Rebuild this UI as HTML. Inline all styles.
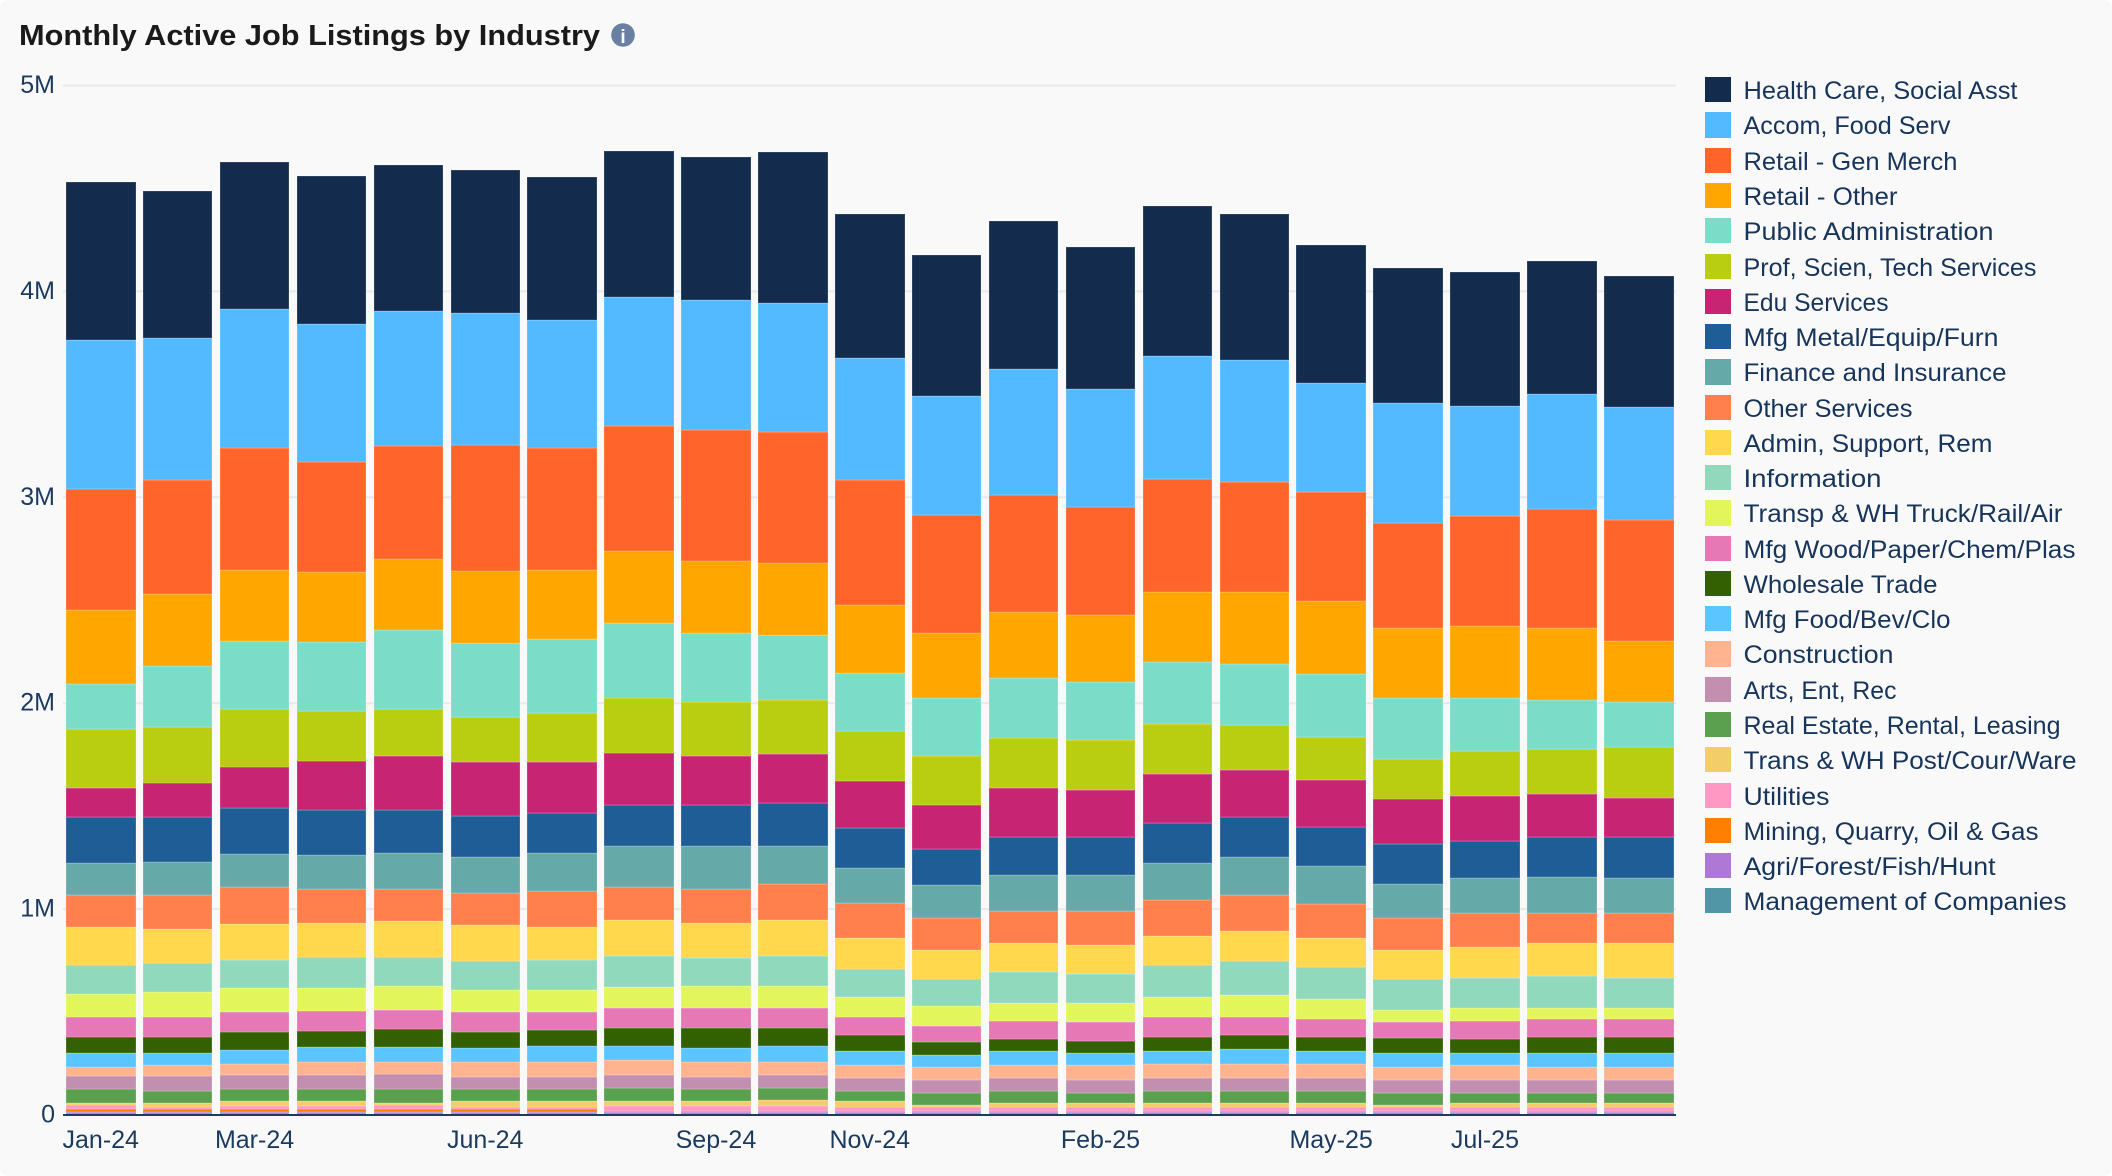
<!DOCTYPE html>
<html lang="en">
<head>
<meta charset="utf-8">
<title>Monthly Active Job Listings by Industry</title>
<style>
  html, body { margin: 0; padding: 0; background: #ffffff; }
  #card { position: relative; width: 2112px; height: 1176px; background: #f9f9f9; border-radius: 8px; overflow: hidden; }
  svg { position: absolute; left: 0; top: 0; display: block; }
  text { font-family: "Liberation Sans", "DejaVu Sans", sans-serif; }
  .legend-text { font-size: 25px; fill: #17345a; }
  .tick { font-size: 25px; fill: #1b3a5e; }
</style>
</head>
<body>
<div id="card">
<svg id="chart" width="2112" height="1176" viewBox="0 0 2112 1176" xmlns="http://www.w3.org/2000/svg">
  <text x="19" y="45" font-size="29" font-weight="700" fill="#1a1a1a" textLength="581" lengthAdjust="spacingAndGlyphs">Monthly Active Job Listings by Industry</text>
  <g>
    <circle cx="623" cy="35" r="11.8" fill="#6a80a3"></circle>
    <text x="623" y="43" font-size="19" font-weight="700" fill="#ffffff" text-anchor="middle">i</text>
  </g>
  <g id="grid"></g>
  <g id="bars"></g>
  <g id="axes"></g>

  <g>
    <g><rect x="1705" y="77" width="26" height="25" fill="#132c4d"></rect><text class="legend-text" x="1743.5" y="99" textLength="274" lengthAdjust="spacingAndGlyphs">Health Care, Social Asst</text></g>
    <g><rect x="1705" y="112" width="26" height="26" fill="#54baff"></rect><text class="legend-text" x="1743.5" y="134" textLength="207" lengthAdjust="spacingAndGlyphs">Accom, Food Serv</text></g>
    <g><rect x="1705" y="148" width="26" height="25" fill="#ff652b"></rect><text class="legend-text" x="1743.5" y="170" textLength="214" lengthAdjust="spacingAndGlyphs">Retail - Gen Merch</text></g>
    <g><rect x="1705" y="183" width="26" height="25" fill="#ffa600"></rect><text class="legend-text" x="1743.5" y="205" textLength="154" lengthAdjust="spacingAndGlyphs">Retail - Other</text></g>
    <g><rect x="1705" y="218" width="26" height="25" fill="#7bddc8"></rect><text class="legend-text" x="1743.5" y="240" textLength="250" lengthAdjust="spacingAndGlyphs">Public Administration</text></g>
    <g><rect x="1705" y="254" width="26" height="25" fill="#b9ce10"></rect><text class="legend-text" x="1743.5" y="276" textLength="293" lengthAdjust="spacingAndGlyphs">Prof, Scien, Tech Services</text></g>
    <g><rect x="1705" y="289" width="26" height="25" fill="#c72574"></rect><text class="legend-text" x="1743.5" y="311" textLength="145" lengthAdjust="spacingAndGlyphs">Edu Services</text></g>
    <g><rect x="1705" y="324" width="26" height="25" fill="#1f5d97"></rect><text class="legend-text" x="1743.5" y="346" textLength="255" lengthAdjust="spacingAndGlyphs">Mfg Metal/Equip/Furn</text></g>
    <g><rect x="1705" y="359" width="26" height="26" fill="#65a9a9"></rect><text class="legend-text" x="1743.5" y="381" textLength="263" lengthAdjust="spacingAndGlyphs">Finance and Insurance</text></g>
    <g><rect x="1705" y="395" width="26" height="25" fill="#ff7f4d"></rect><text class="legend-text" x="1743.5" y="417" textLength="169" lengthAdjust="spacingAndGlyphs">Other Services</text></g>
    <g><rect x="1705" y="430" width="26" height="25" fill="#ffd84d"></rect><text class="legend-text" x="1743.5" y="452" textLength="249" lengthAdjust="spacingAndGlyphs">Admin, Support, Rem</text></g>
    <g><rect x="1705" y="465" width="26" height="25" fill="#91d9bc"></rect><text class="legend-text" x="1743.5" y="487" textLength="138" lengthAdjust="spacingAndGlyphs">Information</text></g>
    <g><rect x="1705" y="500" width="26" height="26" fill="#e2f65b"></rect><text class="legend-text" x="1743.5" y="522" textLength="319" lengthAdjust="spacingAndGlyphs">Transp &amp; WH Truck/Rail/Air</text></g>
    <g><rect x="1705" y="536" width="26" height="25" fill="#e678b6"></rect><text class="legend-text" x="1743.5" y="558" textLength="332" lengthAdjust="spacingAndGlyphs">Mfg Wood/Paper/Chem/Plas</text></g>
    <g><rect x="1705" y="571" width="26" height="25" fill="#336000"></rect><text class="legend-text" x="1743.5" y="593" textLength="194" lengthAdjust="spacingAndGlyphs">Wholesale Trade</text></g>
    <g><rect x="1705" y="606" width="26" height="25" fill="#5bc5ff"></rect><text class="legend-text" x="1743.5" y="628" textLength="207" lengthAdjust="spacingAndGlyphs">Mfg Food/Bev/Clo</text></g>
    <g><rect x="1705" y="641" width="26" height="26" fill="#ffb38f"></rect><text class="legend-text" x="1743.5" y="663" textLength="150" lengthAdjust="spacingAndGlyphs">Construction</text></g>
    <g><rect x="1705" y="677" width="26" height="25" fill="#c28fb0"></rect><text class="legend-text" x="1743.5" y="699" textLength="153" lengthAdjust="spacingAndGlyphs">Arts, Ent, Rec</text></g>
    <g><rect x="1705" y="712" width="26" height="25" fill="#5ba04e"></rect><text class="legend-text" x="1743.5" y="734" textLength="317" lengthAdjust="spacingAndGlyphs">Real Estate, Rental, Leasing</text></g>
    <g><rect x="1705" y="747" width="26" height="25" fill="#f3cd67"></rect><text class="legend-text" x="1743.5" y="769" textLength="333" lengthAdjust="spacingAndGlyphs">Trans &amp; WH Post/Cour/Ware</text></g>
    <g><rect x="1705" y="783" width="26" height="25" fill="#ff99c4"></rect><text class="legend-text" x="1743.5" y="805" textLength="86" lengthAdjust="spacingAndGlyphs">Utilities</text></g>
    <g><rect x="1705" y="818" width="26" height="25" fill="#ff7f00"></rect><text class="legend-text" x="1743.5" y="840" textLength="295" lengthAdjust="spacingAndGlyphs">Mining, Quarry, Oil &amp; Gas</text></g>
    <g><rect x="1705" y="853" width="26" height="25" fill="#ae78d6"></rect><text class="legend-text" x="1743.5" y="875" textLength="252" lengthAdjust="spacingAndGlyphs">Agri/Forest/Fish/Hunt</text></g>
    <g><rect x="1705" y="888" width="26" height="25" fill="#5196a6"></rect><text class="legend-text" x="1743.5" y="910" textLength="323" lengthAdjust="spacingAndGlyphs">Management of Companies</text></g>
  </g>
</svg>
</div>
<script>
// Categories
const months = ['Jan-24','Feb-24','Mar-24','Apr-24','May-24','Jun-24','Jul-24','Aug-24','Sep-24','Oct-24','Nov-24','Dec-24','Jan-25','Feb-25','Mar-25','Apr-25','May-25','Jun-25','Jul-25','Aug-25','Sep-25'];
const xTickLabels = ['Jan-24','Mar-24','Jun-24','Sep-24','Nov-24','Feb-25','May-25','Jul-25'];
const yTickValues = [0,1000,2000,3000,4000,5000];
const yTickLabels = ['0','1M','2M','3M','4M','5M'];

// Series values, in thousands of listings
const healthCare = [769,716,714,717,709,698,699,707,699,733,698,683,717,691,733,707,672,654,654,644,638];
const accomFood = [724,690,674,672,654,638,620,628,630,630,594,578,614,575,596,594,525,586,534,560,550];
const retailGen = [588,554,594,534,549,612,594,606,636,636,604,575,568,523,550,534,534,508,533,578,588];
const retailOther = [358,348,343,340,345,350,334,350,351,351,334,316,321,327,340,350,350,340,350,348,296];
const publicAdmin = [220,298,332,335,385,359,359,366,334,314,280,280,291,280,298,296,306,298,254,238,220];
const profScien = [287,270,280,244,227,220,236,264,262,264,244,238,243,243,244,219,209,193,219,219,243];
const eduServices = [141,167,201,235,262,261,251,253,236,236,227,215,238,230,236,228,228,219,219,210,194];
const mfgMetal = [220,219,219,219,210,202,194,201,201,209,193,175,183,183,194,193,193,193,181,191,198];
const finance = [157,159,165,167,175,175,185,201,210,183,173,159,175,175,181,183,181,165,168,175,168];
const otherServices = [157,165,175,165,157,155,173,159,165,176,168,157,155,165,175,175,168,157,167,147,147];
const adminSupport = [183,167,176,167,175,176,159,175,167,175,149,141,141,141,141,149,139,141,149,159,168];
const information = [139,139,139,149,141,139,147,147,139,147,139,130,149,139,157,165,157,149,147,157,147];
const transpTruck = [113,121,113,113,113,105,105,105,105,105,96,97,87,96,96,105,97,60,62,53,53];
const mfgWood = [97,97,97,97,96,97,89,97,97,97,89,79,87,89,97,87,87,79,87,87,87];
const wholesale = [79,79,87,78,87,78,78,87,96,87,76,62,60,60,68,70,68,70,70,78,78];
const mfgFood = [68,58,70,70,70,70,78,70,70,78,70,60,70,60,62,70,62,70,60,70,70];
const construction = [44,55,52,62,62,71,71,70,71,62,63,62,63,71,71,71,71,62,71,62,62];
const arts = [62,70,71,71,70,62,62,63,62,63,62,62,62,62,62,62,62,62,62,62,62];
const realEstate = [70,60,58,58,70,58,58,66,58,60,50,60,60,52,60,60,60,60,52,52,52];
const transPost = [8,18,21,21,8,29,29,21,21,28,29,11,19,19,19,19,19,11,19,19,19];
const utilities = [18,8,15,15,18,6,6,24,24,24,16,16,16,16,16,16,16,16,16,16,16];
const mining = [18,18,18,18,18,18,18,8,8,8,8,8,8,8,8,8,8,8,8,8,8];
const agri = [3,3,3,3,3,3,3,3,3,3,3,3,3,3,3,3,3,3,3,3,3];
const management = [10,10,10,10,10,10,10,10,10,10,10,10,10,10,10,10,10,10,10,10,10];

// Series in legend order (top of stack first)
const seriesList = [healthCare,accomFood,retailGen,retailOther,publicAdmin,profScien,eduServices,mfgMetal,finance,otherServices,adminSupport,information,transpTruck,mfgWood,wholesale,mfgFood,construction,arts,realEstate,transPost,utilities,mining,agri,management];
const seriesNames = ['health-care','accom-food','retail-gen-merch','retail-other','public-admin','prof-scien-tech','edu-services','mfg-metal','finance','other-services','admin-support','information','transp-truck','mfg-wood','wholesale','mfg-food','construction','arts','real-estate','trans-post','utilities','mining','agri','management'];
const seriesColors = ['#132c4d','#54baff','#ff652b','#ffa600','#7bddc8','#b9ce10','#c72574','#1f5d97','#65a9a9','#ff7f4d','#ffd84d','#91d9bc','#e2f65b','#e678b6','#336000','#5bc5ff','#ffb38f','#c28fb0','#5ba04e','#f3cd67','#ff99c4','#ff7f00','#ae78d6','#5196a6'];

const SVG_NS = 'http://www.w3.org/2000/svg';
const plotLeft = 63, plotRight = 1676, baseY = 1115, pxPerThousand = 0.2059;
const barStart = 66, barStep = 76.9, barWidth = 69.5;

function yScale(v) { return baseY - v * pxPerThousand; }
function xScale(i) { return barStart + i * barStep; }

const gridLayer = document.getElementById('grid');
const barLayer = document.getElementById('bars');
const axisLayer = document.getElementById('axes');

yTickValues.forEach(function (v, i) {
  const y = yScale(v);
  if (v > 0) {
    const line = document.createElementNS(SVG_NS, 'line');
    line.setAttribute('x1', plotLeft);
    line.setAttribute('x2', plotRight);
    line.setAttribute('y1', y);
    line.setAttribute('y2', y);
    line.setAttribute('stroke', '#e9e9e9');
    line.setAttribute('stroke-width', '2');
    
    
    gridLayer.appendChild(line);
  }
  const label = document.createElementNS(SVG_NS, 'text');
  label.setAttribute('x', 55);
  label.setAttribute('y', y + 7.5);
  label.setAttribute('text-anchor', 'end');
  label.setAttribute('class', 'tick');
  
  
  label.textContent = yTickLabels[i];
  axisLayer.appendChild(label);
});

months.forEach(function (month, i) {
  const x0 = Math.round(xScale(i));
  const x1 = Math.round(xScale(i) + barWidth);
  let cumulative = 0;
  for (let s = seriesList.length - 1; s >= 0; s--) {
    const value = seriesList[s][i];
    const yBottom = Math.round(yScale(cumulative));
    cumulative += value;
    const yTop = Math.round(yScale(cumulative));
    const rect = document.createElementNS(SVG_NS, 'rect');
    rect.setAttribute('x', x0);
    rect.setAttribute('y', yTop);
    rect.setAttribute('width', x1 - x0);
    rect.setAttribute('height', Math.max(yBottom - yTop, 0));
    rect.setAttribute('fill', seriesColors[s]);
    rect.setAttribute('stroke', '#ffffff');
    rect.setAttribute('stroke-opacity', '0.22');
    rect.setAttribute('stroke-width', '1');
    
    
    barLayer.appendChild(rect);
  }
  if (xTickLabels.indexOf(month) !== -1) {
    const tick = document.createElementNS(SVG_NS, 'text');
    tick.setAttribute('x', xScale(i) + barWidth / 2);
    tick.setAttribute('y', 1148);
    tick.setAttribute('text-anchor', 'middle');
    tick.setAttribute('class', 'tick');
    
    
    tick.textContent = month;
    axisLayer.appendChild(tick);
  }
});

const baseline = document.createElementNS(SVG_NS, 'line');
baseline.setAttribute('x1', plotLeft);
baseline.setAttribute('x2', plotRight);
baseline.setAttribute('y1', baseY);
baseline.setAttribute('y2', baseY);
baseline.setAttribute('stroke', '#1f3a5f');
baseline.setAttribute('stroke-width', '2');


axisLayer.appendChild(baseline);
</script>
</body>
</html>
